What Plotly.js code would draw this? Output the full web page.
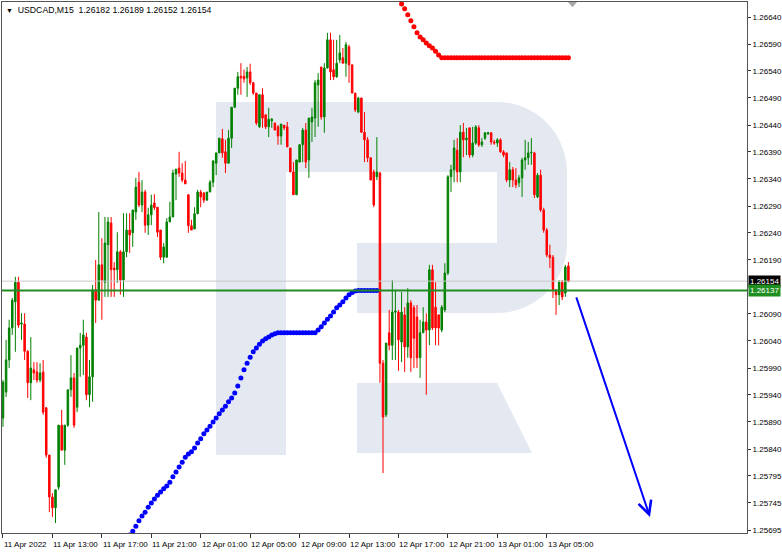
<!DOCTYPE html>
<html>
<head>
<meta charset="utf-8">
<script src="https://cdn.plot.ly/plotly-3.0.1.min.js"></script>
<style>
html,body{margin:0;padding:0;background:#fff;}
#chart{width:782px;height:556px;}
</style>
</head>
<body>
<div id="chart"></div>
<script>
// ---- data (USDCAD, M15) ----
const symbol = 'USDCAD,M15';
const openP = [1.25902,1.25950,1.26009,1.26068,1.26116,1.26152,1.26075,1.26075,1.26025,1.25967,
1.25991,1.25987,1.25972,1.25987,1.25921,1.25834,1.25757,1.25737,1.25775,1.25889,
1.25843,1.25889,1.25954,1.25976,1.25922,1.26031,1.26036,1.26051,1.25945,1.25978,
1.26138,1.26119,1.26184,1.26152,1.26221,1.26261,1.26178,1.26175,1.26208,1.26156,
1.26208,1.26248,1.26243,1.26281,1.26336,1.26294,1.26318,1.26257,1.26276,1.26298,
1.26290,1.26248,1.26198,1.26198,1.26263,1.26272,1.26351,1.26362,1.26353,1.26340,
1.26313,1.26256,1.26250,1.26278,1.26318,1.26316,1.26303,1.26318,1.26336,1.26371,
1.26390,1.26416,1.26392,1.26371,1.26417,1.26474,1.26509,1.26531,1.26531,1.26528,
1.26539,1.26519,1.26500,1.26438,1.26497,1.26460,1.26438,1.26449,1.26445,1.26438,
1.26421,1.26441,1.26438,1.26399,1.26355,1.26313,1.26373,1.26405,1.26432,1.26377,
1.26447,1.26454,1.26515,1.26548,1.26456,1.26546,1.26598,1.26543,1.26530,1.26561,
1.26565,1.26555,1.26585,1.26552,1.26500,1.26465,1.26491,1.26428,1.26414,1.26381,
1.26355,1.26346,1.26353,1.26003,1.25908,1.26059,1.26036,1.26097,1.26097,1.26042,
1.26092,1.26033,1.26114,1.26105,1.26088,1.26013,1.26059,1.26079,1.26064,1.26175,
1.26106,1.26092,1.26064,1.26101,1.26169,1.26346,1.26359,1.26395,1.26355,1.26428,
1.26414,1.26436,1.26386,1.26408,1.26436,1.26405,1.26417,1.26425,1.26427,1.26410,
1.26408,1.26414,1.26392,1.26390,1.26340,1.26359,1.26340,1.26335,1.26344,1.26377,
1.26381,1.26390,1.26390,1.26309,1.26349,1.26285,1.26248,1.26202,1.26198,1.26138,
1.26129,1.26152,1.26132,1.26182];
const highP = [1.25972,1.26046,1.26083,1.26123,1.26162,1.26162,1.26095,1.26095,1.26027,1.26051,
1.26005,1.26005,1.26003,1.26009,1.25922,1.25834,1.25764,1.25770,1.25889,1.25917,
1.25889,1.25954,1.26018,1.25985,1.26031,1.26059,1.26083,1.26059,1.26009,1.26147,
1.26193,1.26281,1.26233,1.26272,1.26272,1.26272,1.26189,1.26244,1.26211,1.26279,
1.26279,1.26279,1.26285,1.26344,1.26355,1.26340,1.26322,1.26289,1.26313,1.26314,
1.26290,1.26248,1.26224,1.26270,1.26300,1.26359,1.26360,1.26392,1.26371,1.26375,
1.26313,1.26267,1.26290,1.26322,1.26322,1.26318,1.26318,1.26340,1.26377,1.26390,
1.26417,1.26434,1.26414,1.26432,1.26474,1.26509,1.26539,1.26555,1.26543,1.26548,
1.26554,1.26520,1.26500,1.26497,1.26509,1.26460,1.26473,1.26454,1.26445,1.26441,
1.26443,1.26441,1.26447,1.26399,1.26373,1.26377,1.26405,1.26436,1.26445,1.26454,
1.26473,1.26524,1.26537,1.26548,1.26555,1.26611,1.26611,1.26598,1.26598,1.26607,
1.26583,1.26594,1.26589,1.26552,1.26500,1.26493,1.26491,1.26465,1.26419,1.26381,
1.26359,1.26419,1.26355,1.26009,1.26040,1.26101,1.26156,1.26138,1.26101,1.26134,
1.26106,1.26141,1.26119,1.26110,1.26110,1.26083,1.26106,1.26095,1.26184,1.26184,
1.26152,1.26092,1.26110,1.26187,1.26349,1.26368,1.26414,1.26417,1.26441,1.26445,
1.26436,1.26436,1.26438,1.26441,1.26441,1.26417,1.26428,1.26428,1.26428,1.26414,
1.26417,1.26417,1.26395,1.26390,1.26373,1.26364,1.26362,1.26349,1.26381,1.26414,
1.26410,1.26417,1.26392,1.26353,1.26359,1.26289,1.26252,1.26221,1.26202,1.26138,
1.26156,1.26156,1.26184,1.26189];
const lowP = [1.25886,1.25941,1.25994,1.26055,1.26024,1.26068,1.26046,1.26009,1.25939,1.25935,
1.25972,1.25967,1.25968,1.25908,1.25829,1.25729,1.25720,1.25709,1.25770,1.25843,
1.25816,1.25886,1.25941,1.25884,1.25913,1.25978,1.25981,1.25935,1.25922,1.25932,
1.26077,1.26119,1.26083,1.26125,1.26125,1.26125,1.26125,1.26151,1.26129,1.26125,
1.26198,1.26206,1.26217,1.26267,1.26290,1.26281,1.26243,1.26239,1.26257,1.26285,
1.26235,1.26193,1.26187,1.26198,1.26263,1.26272,1.26303,1.26346,1.26336,1.26333,
1.26243,1.26248,1.26250,1.26278,1.26290,1.26298,1.26303,1.26318,1.26327,1.26349,
1.26390,1.26381,1.26353,1.26371,1.26399,1.26473,1.26497,1.26497,1.26519,1.26493,
1.26515,1.26497,1.26441,1.26436,1.26436,1.26434,1.26419,1.26436,1.26432,1.26405,
1.26405,1.26432,1.26401,1.26355,1.26313,1.26313,1.26373,1.26373,1.26362,1.26344,
1.26410,1.26419,1.26438,1.26451,1.26427,1.26546,1.26524,1.26524,1.26528,1.26555,
1.26555,1.26530,1.26519,1.26500,1.26465,1.26463,1.26427,1.26373,1.26373,1.26340,
1.26290,1.26340,1.25967,1.25801,1.25904,1.26027,1.26009,1.26009,1.25989,1.26005,
1.25987,1.26013,1.25987,1.25994,1.25994,1.25976,1.26059,1.25945,1.26036,1.26064,
1.26036,1.26036,1.26060,1.26097,1.26165,1.26318,1.26336,1.26336,1.26336,1.26382,
1.26386,1.26381,1.26382,1.26405,1.26401,1.26401,1.26414,1.26423,1.26405,1.26405,
1.26401,1.26390,1.26382,1.26336,1.26327,1.26327,1.26325,1.26327,1.26309,1.26359,
1.26368,1.26368,1.26307,1.26307,1.26281,1.26243,1.26198,1.26178,1.26123,1.26092,
1.26110,1.26119,1.26125,1.26152];
const closeP = [1.25968,1.26009,1.26068,1.26119,1.26152,1.26073,1.26077,1.26025,1.25967,1.25994,
1.25985,1.25972,1.25985,1.25913,1.25834,1.25757,1.25737,1.25770,1.25889,1.25843,
1.25889,1.25954,1.25976,1.25889,1.26031,1.26036,1.26055,1.25945,1.25978,1.26138,
1.26119,1.26184,1.26156,1.26224,1.26263,1.26175,1.26175,1.26208,1.26156,1.26208,
1.26248,1.26239,1.26285,1.26327,1.26294,1.26318,1.26257,1.26276,1.26294,1.26289,
1.26244,1.26198,1.26217,1.26263,1.26272,1.26353,1.26360,1.26353,1.26340,1.26333,
1.26256,1.26248,1.26278,1.26318,1.26309,1.26303,1.26318,1.26336,1.26375,1.26390,
1.26417,1.26390,1.26371,1.26417,1.26474,1.26509,1.26530,1.26528,1.26526,1.26539,
1.26519,1.26500,1.26445,1.26497,1.26454,1.26438,1.26452,1.26452,1.26432,1.26421,
1.26443,1.26436,1.26401,1.26355,1.26313,1.26377,1.26405,1.26432,1.26373,1.26454,
1.26456,1.26519,1.26524,1.26456,1.26546,1.26598,1.26539,1.26530,1.26555,1.26574,
1.26555,1.26589,1.26552,1.26500,1.26469,1.26491,1.26428,1.26414,1.26381,1.26340,
1.26294,1.26355,1.26003,1.25904,1.26040,1.26036,1.26097,1.26099,1.26046,1.26097,
1.26033,1.26114,1.26013,1.26049,1.26013,1.26059,1.26079,1.26064,1.26175,1.26068,
1.26068,1.26068,1.26106,1.26169,1.26346,1.26359,1.26399,1.26355,1.26428,1.26414,
1.26417,1.26386,1.26408,1.26438,1.26405,1.26410,1.26427,1.26427,1.26410,1.26408,
1.26414,1.26392,1.26386,1.26340,1.26359,1.26340,1.26331,1.26344,1.26377,1.26381,
1.26390,1.26391,1.26313,1.26349,1.26285,1.26248,1.26202,1.26197,1.26138,1.26129,
1.26152,1.26125,1.26180,1.26154];

// Parabolic SAR below price (blue), first bar index 41
const sarBlueStart = 41;
const sarBlue = [1.25687,1.25694,1.25703,1.25713,1.25722,1.25729,1.25738,1.25746,1.25753,1.25760,
1.25766,1.25772,1.25777,1.25784,1.25794,1.25803,1.25812,1.25821,1.25830,1.25836,
1.25840,1.25847,1.25856,1.25864,1.25873,1.25880,1.25887,1.25895,1.25902,1.25910,
1.25917,1.25924,1.25932,1.25939,1.25948,1.25961,1.25976,1.25991,1.26003,1.26014,
1.26024,1.26031,1.26038,1.26044,1.26048,1.26051,1.26055,1.26057,1.26059,1.26059,
1.26059,1.26059,1.26059,1.26059,1.26059,1.26059,1.26059,1.26059,1.26059,1.26059,
1.26059,1.26064,1.26070,1.26077,1.26084,1.26090,1.26097,1.26105,1.26110,1.26116,
1.26123,1.26129,1.26133,1.26136,1.26137,1.26137,1.26137,1.26137,1.26137,1.26137,
1.26137];
// Parabolic SAR above price (red), first bar index 129
const sarRedStart = 129;
const sarRed = [1.26664,1.26655,1.26644,1.26633,1.26622,1.26611,1.26603,1.26598,1.26592,1.26587,
1.26583,1.26577,1.26570,1.26565,1.26565,1.26565,1.26565,1.26565,1.26565,1.26565,
1.26565,1.26565,1.26565,1.26565,1.26565,1.26565,1.26565,1.26565,1.26565,1.26565,
1.26565,1.26565,1.26565,1.26565,1.26565,1.26565,1.26565,1.26565,1.26565,1.26565,
1.26565,1.26565,1.26565,1.26565,1.26565,1.26565,1.26565,1.26565,1.26565,1.26565,
1.26565,1.26565,1.26565,1.26565,1.26565];

const levelPrice = 1.26137;   // green horizontal level
const bidPrice = closeP[closeP.length - 1];

const xTickLabels = ['11 Apr 2022','11 Apr 13:00','11 Apr 17:00','11 Apr 21:00','12 Apr 01:00',
  '12 Apr 05:00','12 Apr 09:00','12 Apr 13:00','12 Apr 17:00','12 Apr 21:00','13 Apr 01:00','13 Apr 05:00'];
const barsPerTick = 16;
const yTickVals = [1.26640,1.26590,1.26541,1.26491,1.26441,1.26392,1.26342,1.26292,1.26243,1.26193,
  1.26094,1.26044,1.25994,1.25945,1.25895,1.25845,1.25796,1.25746,1.25696];
const yTickText = ['1.26640','1.26590','1.26540','1.26490','1.26440','1.26390','1.26340','1.26290','1.26240','1.26190',
  '1.26090','1.26040','1.25990','1.25940','1.25890','1.25840','1.25795','1.25745','1.25695'];

// ---- build ----
const idx = openP.map((_, i) => i);
const fmt = v => v.toFixed(5);
const last = openP.length - 1;

const candles = {
  type: 'candlestick', x: idx, open: openP, high: highP, low: lowP, close: closeP,
  increasing: {line: {color: '#008000', width: 1}, fillcolor: '#008000'},
  decreasing: {line: {color: '#ff0000', width: 1}, fillcolor: '#ff0000'},
  whiskerwidth: 0, hoverinfo: 'skip', showlegend: false
};
const blue = {
  type: 'scatter', mode: 'markers',
  x: sarBlue.map((_, i) => sarBlueStart + i), y: sarBlue,
  marker: {color: '#0000ff', size: 5}, hoverinfo: 'skip', cliponaxis: true
};
const red = {
  type: 'scatter', mode: 'markers',
  x: sarRed.map((_, i) => sarRedStart + i), y: sarRed,
  marker: {color: '#ff0000', size: 5}, hoverinfo: 'skip', cliponaxis: true
};

const font = 'Liberation Sans, Arial, sans-serif';
const logo = '#e4e9f1';
const annotations = [];
xTickLabels.forEach((t, k) => {
  annotations.push({x: k * barsPerTick, xref: 'x', y: 0, yref: 'paper', yanchor: 'top', xanchor: 'left',
    xshift: -1, yshift: -5, text: t, showarrow: false, font: {family: font, size: 8, color: '#000'}});
});
annotations.push({x: 0, xref: 'paper', y: 1, yref: 'paper', xanchor: 'left', yanchor: 'top', xshift: 2, yshift: -1,
  text: '<span style="font-size:7px">\u25BC</span>  ' + symbol + '  ' +
        [openP[last], highP[last], lowP[last], closeP[last]].map(fmt).join(' '),
  showarrow: false, font: {family: font, size: 8.7, color: '#000'}});
annotations.push({x: 1, xref: 'paper', y: bidPrice, yref: 'y', xanchor: 'left', yanchor: 'middle', xshift: 1,
  text: fmt(bidPrice), showarrow: false, bgcolor: '#000000', borderpad: 1,
  font: {family: font, size: 8, color: '#ffffff'}});
annotations.push({x: 1, xref: 'paper', y: levelPrice, yref: 'y', xanchor: 'left', yanchor: 'middle', xshift: 1,
  text: fmt(levelPrice), showarrow: false, bgcolor: '#1f8f1f', borderpad: 1,
  font: {family: font, size: 8, color: '#ffffff'}});
// forecast arrow
annotations.push({x: 209.4, y: 1.25720, xref: 'x', yref: 'y', ax: 185.4, ay: 1.26127, axref: 'x', ayref: 'y',
  text: '', showarrow: true, arrowhead: 5, arrowsize: 1.3, arrowwidth: 2, arrowcolor: '#0000ff', standoff: 0});

const shapes = [
  // watermark logo
  {type: 'rect', xref: 'paper', yref: 'paper', x0: 0.2872, x1: 0.3812, y0: 0.1469, y1: 0.8117,
    fillcolor: logo, line: {width: 0}, layer: 'below'},
  {type: 'path', xref: 'paper', yref: 'paper', layer: 'below', fillcolor: logo, line: {width: 0},
    path: 'M0.2872,0.8117 L0.6644,0.8117 C0.7163,0.8117 0.7584,0.7525 0.7584,0.6798 L0.7584,0.5461 ' +
          'C0.7584,0.4734 0.7163,0.4143 0.6644,0.4143 L0.4765,0.4143 L0.4765,0.5461 L0.6644,0.5461 ' +
          'L0.6644,0.6798 L0.2872,0.6798 Z'},
  {type: 'path', xref: 'paper', yref: 'paper', layer: 'below', fillcolor: logo, line: {width: 0},
    path: 'M0.4765,0.2825 L0.6644,0.2825 L0.7114,0.1507 L0.4765,0.1507 Z'},
  // bid line and level line
  {type: 'line', xref: 'paper', yref: 'y', x0: 0, x1: 1, y0: bidPrice, y1: bidPrice,
    line: {color: '#c8c8c8', width: 1}, layer: 'above'},
  {type: 'line', xref: 'paper', yref: 'y', x0: 0, x1: 1, y0: levelPrice, y1: levelPrice,
    line: {color: '#228b22', width: 2}, layer: 'above'},
  // chart shift marker
  {type: 'path', xref: 'paper', yref: 'paper', layer: 'above', fillcolor: '#a8a8a8', line: {width: 0},
    path: 'M0.7597,1 L0.7718,1 L0.7658,0.990 Z'}
];

const layout = {
  width: 782, height: 556,
  margin: {l: 2, r: 35, t: 2, b: 23, pad: 0},
  paper_bgcolor: '#ffffff', plot_bgcolor: '#ffffff',
  showlegend: false, dragmode: false,
  xaxis: {
    type: 'linear', range: [-0.32, 240.8], rangeslider: {visible: false},
    showgrid: false, zeroline: false, showline: true, mirror: true, linecolor: '#555', linewidth: 1,
    tickvals: xTickLabels.map((_, k) => k * barsPerTick), ticks: 'outside', ticklen: 4, tickcolor: '#333',
    showticklabels: false
  },
  yaxis: {
    side: 'right', range: [1.256906, 1.266676],
    showgrid: false, zeroline: false, showline: true, mirror: true, linecolor: '#555', linewidth: 1,
    tickvals: yTickVals, ticktext: yTickText, ticks: 'outside', ticklen: 3, tickcolor: '#333',
    tickfont: {family: font, size: 8, color: '#000'}
  },
  shapes: shapes,
  annotations: annotations
};

Plotly.newPlot('chart', [candles, blue, red], layout, {staticPlot: true, displayModeBar: false});
</script>
</body>
</html>
